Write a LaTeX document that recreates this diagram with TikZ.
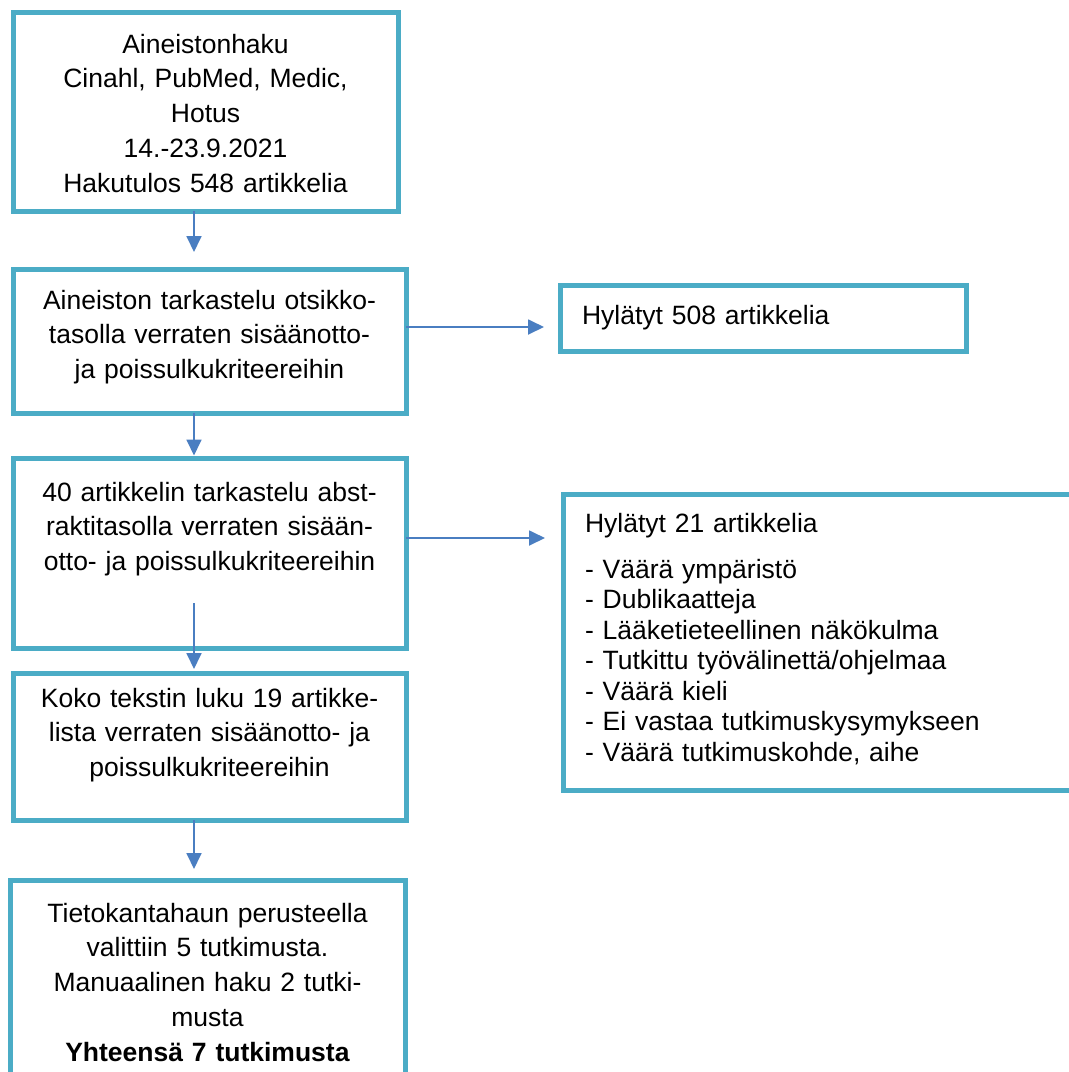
\documentclass[tikz,border=0pt]{standalone}
\usepackage{fontspec}
\setmainfont{Liberation Sans}
\usetikzlibrary{arrows.meta,positioning,calc}
\definecolor{boxTeal}{RGB}{75,172,198}
\definecolor{arrowBlue}{RGB}{74,126,193}
\tikzset{%
  >={Triangle[width=15pt,length=16pt]},
  % Specifications for style of nodes:
     base/.style = {rectangle, draw=boxTeal, line width=5pt, outer sep=0pt,
                           inner ysep=0pt, inner xsep=10pt,
                           font=\fontsize{26.5}{34.75}\selectfont},
    mainStep/.style = {base, text width=373pt, align=center},
    rejectBox/.style = {base, inner xsep=22pt, align=left,
                           font=\fontsize{26.5}{30.5}\selectfont},
    flow/.style = {->, draw=arrowBlue, line width=1.8pt},
}
\begin{document}
\begin{tikzpicture}[x=1pt, y=1pt]
  \useasboundingbox[fill=white] (0,0) rectangle (1069,-1072);
  \clip (0,0) rectangle (1069,-1072);
  \coordinate (spine) at (194,0);

  % Specification of nodes (position, etc.)
  \node (search)          [mainStep, text width=365pt, text height=41pt, text depth=158pt,
                           anchor=north west] at (13,-12)
                              {Aineistonhaku\\
                               Cinahl, PubMed, Medic,\\
                               Hotus\\
                               14.-23.9.2021\\
                               Hakutulos 548 artikkelia};

  \node (titleScreen)     [mainStep, text height=40pt, text depth=104pt,
                           below=58pt of search, xshift=4pt]
                              {Aineiston tarkastelu otsikko-\\
                               tasolla verraten sisäänotto-\\
                               ja poissulkukriteereihin};

  \node (abstractScreen)  [mainStep, text height=43pt, text depth=147pt,
                           below=45pt of titleScreen]
                              {40 artikkelin tarkastelu abst-\\
                               raktitasolla verraten sisään-\\
                               otto- ja poissulkukriteereihin};

  \node (fullText)        [mainStep, text height=34pt, text depth=113pt,
                           below=25pt of abstractScreen]
                              {Koko tekstin luku 19 artikke-\\
                               lista verraten sisäänotto- ja\\
                               poissulkukriteereihin};

  \node (result)          [mainStep, text width=375pt, text height=42pt, text depth=163pt,
                           below=60pt of fullText, xshift=-2pt]
                              {Tietokantahaun perusteella\\
                               valittiin 5 tutkimusta.\\
                               Manuaalinen haku 2 tutki-\\
                               musta\\
                               \textbf{Yhteensä 7 tutkimusta}};

  \node (rejected508)     [rejectBox, text width=362pt, text height=39pt, text depth=27pt,
                           right=154pt of titleScreen, yshift=23pt]
                              {Hylätyt 508 artikkelia};

  \node (rejected21)      [rejectBox, text width=468pt, text height=38pt, text depth=258pt,
                           right=157pt of abstractScreen, yshift=-89pt]
                              {Hylätyt 21 artikkelia\\[15.5pt]
                               - Väärä ympäristö\\
                               - Dublikaatteja\\
                               - Lääketieteellinen näkökulma\\
                               - Tutkittu työvälinettä/ohjelmaa\\
                               - Väärä kieli\\
                               - Ei vastaa tutkimuskysymykseen\\
                               - Väärä tutkimuskohde, aihe};

  % Specification of lines between nodes specified above
  \coordinate (insideStart) at ($(abstractScreen.south -| spine)+(0,45)$);

  \draw[flow, shorten >=17pt]  (search.south -| spine) -- (titleScreen.north -| spine);
  \draw[flow, shorten >=2.5pt] (titleScreen.south -| spine) -- (abstractScreen.north -| spine);
  \draw[flow, shorten >=4pt]   (insideStart) -- (fullText.north -| spine);
  \draw[flow, shorten >=11pt]  (fullText.south -| spine) -- (result.north -| spine);

  \draw[flow, shorten >=16pt] ($(titleScreen.east)+(0,14)$) -- ($(titleScreen.east -| rejected508.west)+(0,14)$);
  \draw[flow, shorten >=18pt] ($(abstractScreen.east)+(0,15)$) -- ($(abstractScreen.east -| rejected21.west)+(0,15)$);

\end{tikzpicture}
\end{document}
